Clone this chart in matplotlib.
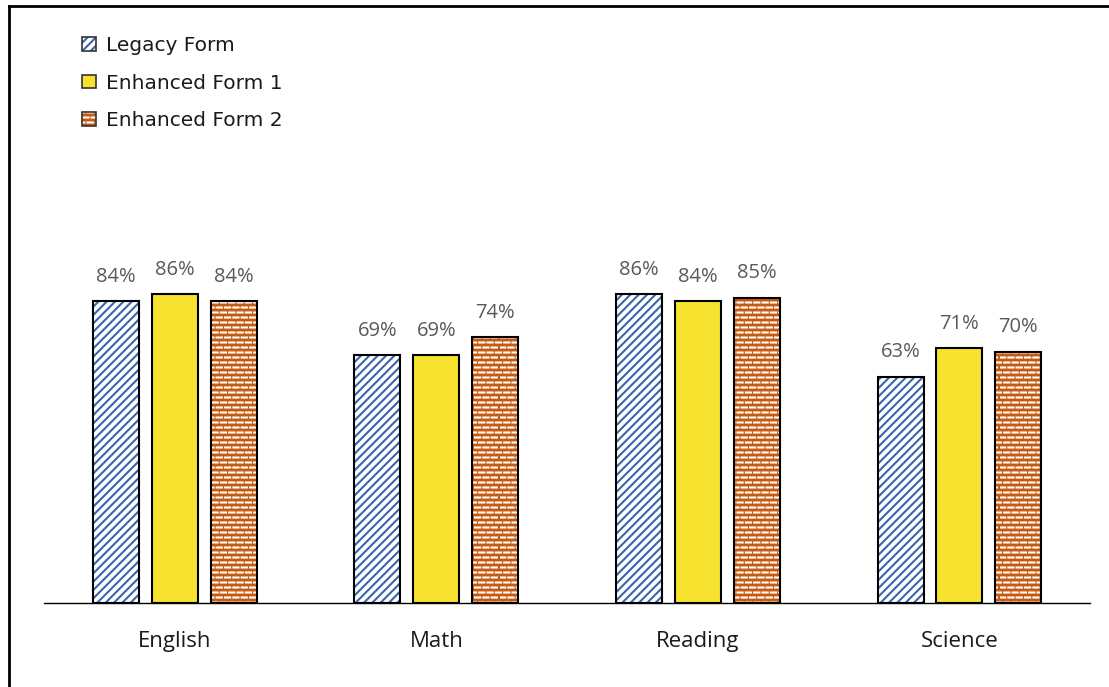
import warnings
import matplotlib.pyplot as plt
import matplotlib as mpl
from matplotlib import hatch as mhatch
from matplotlib.path import Path
from matplotlib.lines import Line2D
from matplotlib.patches import Patch
import numpy as np

warnings.filterwarnings("ignore")
plt.rcParams['font.family'] = ['Open Sans', 'DejaVu Sans']
mpl.rcParams['hatch.linewidth'] = 1.5

subjects = ["English", "Math", "Reading", "Science"]
forms = ["Legacy Form", "Enhanced Form 1", "Enhanced Form 2"]
legacy = [84, 69, 86, 63]
enhanced1 = [86, 69, 84, 71]
enhanced2 = [84, 74, 85, 70]


class BrickDashHatch(mhatch.HatchPatternBase):
    """Short dashes laid out in staggered rows, triggered by 'b'."""
    rows = 20
    cols = 12
    dash = 0.052

    def __init__(self, hatch, density):
        self.filled = False
        self.segments = []
        if 'b' in hatch:
            for r in range(self.rows):
                y = (r + 0.5) / self.rows
                off = 0.5 / self.cols if r % 2 else 0.0
                for c in range(-1, self.cols + 1):
                    x0 = max(c / self.cols + off, 0.0)
                    x1 = min(c / self.cols + off + self.dash, 1.0)
                    if x1 > x0:
                        self.segments.append((x0, x1, y))
        self.num_vertices = 2 * len(self.segments)

    def set_vertices_and_codes(self, vertices, codes):
        for i, (x0, x1, y) in enumerate(self.segments):
            vertices[2 * i] = (x0, y)
            vertices[2 * i + 1] = (x1, y)
            codes[2 * i] = Path.MOVETO
            codes[2 * i + 1] = Path.LINETO


mhatch._hatch_types.append(BrickDashHatch)

BLUE = "#3B64AD"
YELLOW = "#F6E22F"
ORANGE = "#C55A11"

# fill colour, hatch colour, hatch pattern per series
styles = [
    ("white", BLUE, "////"),
    (YELLOW, None, None),
    (ORANGE, "white", "b"),
]

fig = plt.figure(figsize=(11.09, 6.87), dpi=100)
ax = fig.add_axes([0.0397, 0.1223, 0.9433, 0.5226])

x = np.arange(len(subjects))
width = 0.176
step = 0.225

for i, (vals, (face, hcol, hatch)) in enumerate(zip([legacy, enhanced1, enhanced2], styles)):
    pos = x + (i - 1) * step
    if hatch:
        ax.bar(pos, vals, width, color=face, edgecolor=hcol, hatch=hatch, linewidth=0)
    else:
        ax.bar(pos, vals, width, color=face, linewidth=0)
    ax.bar(pos, vals, width, fill=False, edgecolor="black", linewidth=1.5)
    for p, v in zip(pos, vals):
        ax.annotate(f"{v}%", (p, v), xytext=(0, 14), textcoords="offset points",
                    ha="center", va="baseline", fontsize=14.5, color="#595959")

ax.set_xlim(-0.5, 3.5)
ax.set_ylim(0, 100)
ax.set_yticks([])
ax.set_xticks(x)
ax.set_xticklabels(subjects, fontsize=16, color="#1a1a1a", va="baseline")
ax.tick_params(axis="x", length=0, pad=31.5)
for side in ["top", "right", "left"]:
    ax.spines[side].set_visible(False)
ax.spines["bottom"].set_linewidth(1.0)
ax.spines["bottom"].set_color("black")

handles = [
    (Patch(facecolor="white", edgecolor=BLUE, hatch="////", linewidth=0),
     Patch(fill=False, edgecolor="#333333", linewidth=1.2)),
    Patch(facecolor=YELLOW, edgecolor="#333333", linewidth=1.2),
    (Patch(facecolor=ORANGE, edgecolor="white", hatch="b", linewidth=0),
     Patch(fill=False, edgecolor="#333333", linewidth=1.2)),
]
fig.legend(handles, forms, loc="upper left", bbox_to_anchor=(0.074, 0.947),
           frameon=False, prop={"family": "DejaVu Sans", "size": 14.5},
           handlelength=0.68, handleheight=0.68, handletextpad=0.5,
           labelspacing=0.9, borderpad=0, borderaxespad=0,
           labelcolor="#1a1a1a")

# frame lines on the left and top edges
fig.add_artist(Line2D([0.0085, 0.0085], [0.0, 0.991], transform=fig.transFigure, color="black", linewidth=2))
fig.add_artist(Line2D([0.0085, 1.0], [0.991, 0.991], transform=fig.transFigure, color="black", linewidth=2))

fig.savefig("out.png", dpi=100)
